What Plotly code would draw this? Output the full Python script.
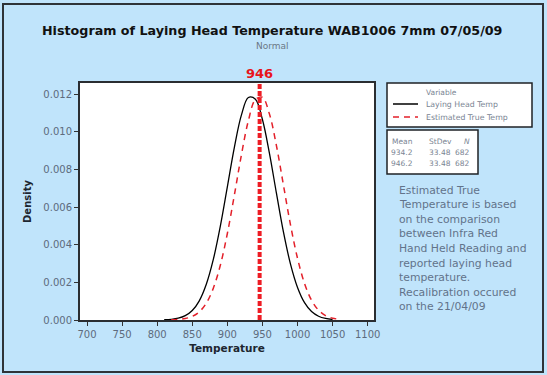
import plotly.graph_objects as go

# ---- data ----
temp_black = [810, 820, 830, 840, 850, 860, 870, 880, 890, 900, 910, 920, 930, 940,
              950, 960, 970, 980, 990, 1000, 1010, 1020, 1030, 1040, 1050]
dens_black = [0.000012, 0.000035, 0.000094, 0.00023, 0.000505, 0.00102, 0.0019, 0.00322,
              0.00499, 0.00708, 0.00918, 0.01089, 0.01183, 0.01174, 0.01066, 0.00886,
              0.00673, 0.00467, 0.00297, 0.00173, 0.00092, 0.000447, 0.000199, 0.000081, 0.00003]
temp_red = [820, 830, 840, 850, 860, 870, 880, 890, 900, 910, 920, 930, 940, 950,
            960, 970, 980, 990, 1000, 1010, 1020, 1030, 1040, 1050, 1060]
dens_red = [0.00001, 0.000029, 0.000078, 0.000192, 0.000433, 0.000895, 0.00169, 0.00291,
            0.0046, 0.00664, 0.00877, 0.0106, 0.01172, 0.01184, 0.01095, 0.00926, 0.00716,
            0.00506, 0.00328, 0.00194, 0.00105, 0.00052, 0.000235, 0.000097, 0.000037]
series_names = ["Laying Head Temp", "Estimated True Temp"]
stat_mean = ["934.2", "946.2"]
stat_stdev = ["33.48", "33.48"]
stat_n = ["682", "682"]
marker_value = 946
x_ticks = [700, 750, 800, 850, 900, 950, 1000, 1050, 1100]
y_ticks = [0.000, 0.002, 0.004, 0.006, 0.008, 0.010, 0.012]
note_lines = ["Estimated True", "Temperature is based", "on the comparison",
              "between Infra Red", "Hand Held Reading and", "reported laying head",
              "temperature.", "Recalibration occured", "on the 21/04/09"]

# ---- layout geometry (pixels) ----
W, H = 547, 375
L, R, T, B = 80, 374, 83, 320
PW, PH = R - L, B - T
BG = "#c0e4fb"
GREY = "#5d6b7d"
LGREY = "#7a8593"
FONT = "DejaVu Sans"


def px(x):
    return (x - L) / PW


def py(y):
    return (B - y) / PH


fig = go.Figure()
fig.add_trace(go.Scatter(x=temp_black, y=dens_black, mode="lines", name=series_names[0],
                         line=dict(color="black", width=1.3, shape="spline"),
                         showlegend=False))
fig.add_trace(go.Scatter(x=temp_red, y=dens_red, mode="lines", name=series_names[1],
                         line=dict(color="#e3202a", width=1.5, dash="6px,5px", shape="spline"),
                         showlegend=False))

shapes = []
# vertical marker line
shapes.append(dict(type="line", xref="x", yref="paper", x0=marker_value, x1=marker_value,
                   y0=0, y1=1.0, line=dict(color="#ee1c24", width=4, dash="5px,2px")))
# outer frame
shapes.append(dict(type="rect", xref="paper", yref="paper", x0=px(3), x1=px(543),
                   y0=py(4), y1=py(372), line=dict(color="#2f3338", width=2), layer="below"))
# legend box
shapes.append(dict(type="rect", xref="paper", yref="paper", x0=px(387), x1=px(532),
                   y0=py(83), y1=py(127), fillcolor="white",
                   line=dict(color="#1f2226", width=1.5)))
# stats box
shapes.append(dict(type="rect", xref="paper", yref="paper", x0=px(387), x1=px(478),
                   y0=py(130), y1=py(174), fillcolor="white",
                   line=dict(color="#1f2226", width=1.5)))
# legend line samples
shapes.append(dict(type="line", xref="paper", yref="paper", x0=px(393), x1=px(418),
                   y0=py(104), y1=py(104), line=dict(color="black", width=1.5)))
shapes.append(dict(type="line", xref="paper", yref="paper", x0=px(393), x1=px(418),
                   y0=py(117), y1=py(117), line=dict(color="#e3202a", width=1.5, dash="6px,5px")))

ann = []


def txt(text, x, y, size=10, color=GREY, bold=False, xanchor="center", yanchor="middle"):
    ann.append(dict(text=f"<b>{text}</b>" if bold else text, xref="paper", yref="paper",
                    x=px(x), y=py(y), showarrow=False, xanchor=xanchor, yanchor=yanchor,
                    font=dict(family=FONT, size=size, color=color)))


txt("Histogram of Laying Head Temperature WAB1006 7mm 07/05/09", 272, 30, size=12.7,
    color="#111111", bold=True)
txt("Normal", 272, 46, size=9, color="#6b7785")
ann.append(dict(text=f"<b>{marker_value}</b>", xref="x", yref="paper", x=marker_value,
                y=py(73), showarrow=False, xanchor="center", yanchor="middle",
                font=dict(family=FONT, size=13, color="#e8141c")))
# legend content
txt("Variable", 441, 92, size=7.5, color=LGREY)
txt(series_names[0], 424, 104, size=7.8, color=LGREY, xanchor="left")
txt(series_names[1], 424, 117, size=7.8, color=LGREY, xanchor="left")
# stats content
txt("Mean", 402, 141, size=7.5, color=LGREY)
txt("StDev", 440, 141, size=7.5, color=LGREY)
txt("<i>N</i>", 472, 141, size=7.5, color=LGREY, xanchor="right")
for i in range(2):
    yy = 152 + 11 * i
    txt(stat_mean[i], 402, yy, size=7.5, color=LGREY)
    txt(stat_stdev[i], 440, yy, size=7.5, color=LGREY)
    txt(stat_n[i], 472, yy, size=7.5, color=LGREY, xanchor="right")
# note text
for i, line in enumerate(note_lines):
    txt(line, 397, 190 + 14.6 * i, size=10.8, color="#62738a", xanchor="left")

fig.update_layout(
    width=W, height=H,
    margin=dict(l=L, r=W - R, t=T, b=H - B, pad=0),
    paper_bgcolor=BG, plot_bgcolor="white",
    shapes=shapes, annotations=ann, showlegend=False,
    xaxis=dict(range=[690, 1109], tickvals=x_ticks, ticks="outside", ticklen=4,
               tickcolor="#333", tickwidth=1.3, showgrid=False, zeroline=False,
               showline=True, linecolor="#2a2d31", linewidth=2, mirror=True,
               tickfont=dict(family=FONT, size=10, color=GREY),
               title=dict(text="<b>Temperature</b>", standoff=6,
                          font=dict(family=FONT, size=10.5, color="#1d2630"))),
    yaxis=dict(range=[0, 0.0126], tickvals=y_ticks, tickformat=".3f", ticks="outside",
               ticklen=4, tickcolor="#333", tickwidth=1.3, showgrid=False, zeroline=False,
               showline=True, linecolor="#2a2d31", linewidth=2, mirror=True,
               tickfont=dict(family=FONT, size=10, color=GREY),
               title=dict(text="<b>Density</b>", standoff=10,
                          font=dict(family=FONT, size=10, color="#1d2630"))),
)

fig.write_html("out.html", config={"displayModeBar": False},
               post_script="document.body.style.margin='0';document.body.style.padding='0';")
